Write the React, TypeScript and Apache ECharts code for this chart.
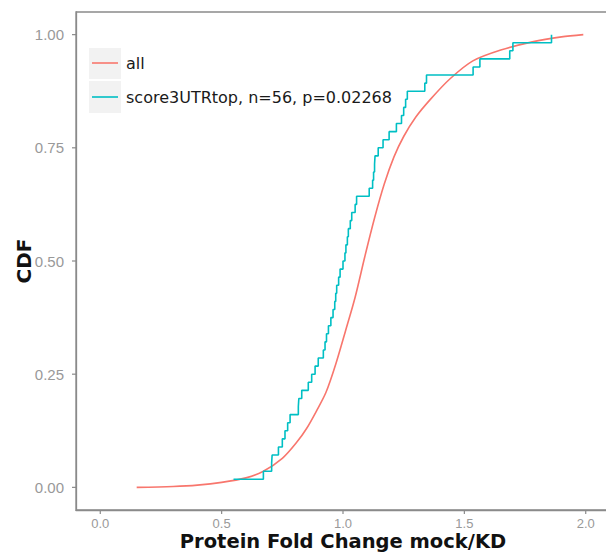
import React, { useEffect, useRef } from "react";
import * as echarts from "echarts";

// "all" CDF curve (x, cumulative fraction)
const allX = [0.15, 0.3, 0.4, 0.5, 0.6, 0.67, 0.75, 0.81, 0.85, 0.89, 0.93, 0.97, 1.01, 1.05, 1.09, 1.13, 1.17, 1.21, 1.25, 1.3, 1.36, 1.44, 1.535, 1.65, 1.78, 1.9, 1.99];
const allY = [0, 0.002, 0.005, 0.011, 0.021, 0.035, 0.064, 0.1, 0.13, 0.168, 0.21, 0.272, 0.345, 0.42, 0.51, 0.595, 0.67, 0.73, 0.775, 0.818, 0.857, 0.902, 0.942, 0.966, 0.984, 0.995, 1.0];

// score3UTRtop sorted values (n = 56)
const topValues = [
  0.549, 0.672, 0.706, 0.708, 0.734, 0.75, 0.761, 0.772, 0.782, 0.816,
  0.818, 0.83, 0.857, 0.871, 0.885, 0.898, 0.919, 0.926, 0.932, 0.94,
  0.95, 0.959, 0.966, 0.97, 0.974, 0.982, 0.988, 1.0, 1.008, 1.012,
  1.018, 1.022, 1.03, 1.036, 1.05, 1.056, 1.108, 1.122, 1.126, 1.13,
  1.132, 1.145, 1.165, 1.19, 1.22, 1.241, 1.25, 1.258, 1.265, 1.337,
  1.344, 1.536, 1.564, 1.687, 1.7, 1.859,
];

const xTicks = [0, 0.5, 1, 1.5, 2];
const yTicks = [0, 0.25, 0.5, 0.75, 1];
const seriesNames = ["all", "score3UTRtop, n=56, p=0.02268"];
const colors = ["#F8766D", "#00BFC4"];

const X_MIN = -0.1;
const X_MAX = 2.1;
const Y_MIN = -0.05;
const Y_MAX = 1.05;

export default function App() {
  const ref = useRef<HTMLDivElement>(null);
  useEffect(() => {
    if (!ref.current) return;
    const chart = echarts.init(ref.current, undefined, { renderer: "svg" });
    const allData = allX.map((x, i) => [x, allY[i]]);
    const n = topValues.length;
    const topData = topValues.map((x, i) => [x, (i + 1) / n]);
    const tickColor = "#999999";
    const axisGray = "#8a8a8a";
    const legendGraphics = [
      { type: "rect", shape: { x: 89, y: 48, width: 32, height: 31 }, style: { fill: "#F2F2F2" } },
      { type: "rect", shape: { x: 89, y: 81, width: 32, height: 32 }, style: { fill: "#F2F2F2" } },
      { type: "line", shape: { x1: 92, y1: 63, x2: 118, y2: 63 }, style: { stroke: colors[0], lineWidth: 1.6 } },
      { type: "line", shape: { x1: 92, y1: 97, x2: 118, y2: 97 }, style: { stroke: colors[1], lineWidth: 1.6 } },
      {
        type: "text",
        x: 126,
        y: 63,
        style: { text: seriesNames[0], fontFamily: "DejaVu Sans", fontSize: 16, fill: "#1a1a1a", verticalAlign: "middle" },
      },
      {
        type: "text",
        x: 126,
        y: 97,
        style: { text: seriesNames[1], fontFamily: "DejaVu Sans", fontSize: 16, fill: "#1a1a1a", verticalAlign: "middle" },
      },
    ];
    chart.setOption({
      animation: false,
      backgroundColor: "#ffffff",
      grid: {
        left: 76,
        top: 12,
        right: -4,
        bottom: 43,
        outerBoundsMode: "none",
        containLabel: false,
        show: true,
        borderColor: axisGray,
        borderWidth: 1.3,
        backgroundColor: "transparent",
      },
      xAxis: {
        type: "value",
        min: X_MIN,
        max: X_MAX,
        name: "Protein Fold Change mock/KD",
        nameLocation: "middle",
        nameGap: 20,
        nameMoveOverlap: false,
        nameTextStyle: { fontFamily: "DejaVu Sans", fontWeight: "bold", fontSize: 19.5, color: "#111", lineHeight: 22 },
        axisLine: { show: true, onZero: false, lineStyle: { color: axisGray, width: 1.3 } },
        splitLine: { show: false },
        axisTick: { show: false },
        axisLabel: {
          customValues: xTicks,
          formatter: (v: number) => v.toFixed(1),
          color: tickColor,
          fontFamily: "Liberation Sans",
          fontSize: 13,
          lineHeight: 14,
          margin: 6,
        },
      },
      yAxis: {
        type: "value",
        min: Y_MIN,
        max: Y_MAX,
        name: "CDF",
        nameLocation: "middle",
        nameGap: 42,
        nameMoveOverlap: false,
        nameTextStyle: { fontFamily: "DejaVu Sans", fontWeight: "bold", fontSize: 20, color: "#111" },
        axisLine: { show: true, onZero: false, lineStyle: { color: axisGray, width: 1.3 } },
        splitLine: { show: false },
        axisTick: { show: false },
        axisLabel: {
          customValues: yTicks,
          formatter: (v: number) => v.toFixed(2),
          color: tickColor,
          fontFamily: "Liberation Sans",
          fontSize: 15,
          margin: 12,
        },
      },
      series: [
        {
          name: seriesNames[0],
          type: "line",
          data: allData,
          smooth: 0.3,
          showSymbol: false,
          lineStyle: { color: colors[0], width: 1.6 },
          z: 2,
        },
        {
          name: seriesNames[1],
          type: "line",
          step: "end",
          data: topData,
          showSymbol: false,
          lineStyle: { color: colors[1], width: 1.6 },
          z: 3,
        },
      ],
      graphic: legendGraphics,
    });

    // axis tick marks placed through the chart's own scales
    const tickGraphics: any[] = [];
    xTicks.forEach((v) => {
      const p = chart.convertToPixel({ gridIndex: 0 }, [v, Y_MIN]) as number[];
      tickGraphics.push({
        type: "line",
        shape: { x1: p[0], y1: p[1], x2: p[0], y2: p[1] + 4 },
        style: { stroke: axisGray, lineWidth: 1.2 },
      });
    });
    yTicks.forEach((v) => {
      const p = chart.convertToPixel({ gridIndex: 0 }, [X_MIN, v]) as number[];
      tickGraphics.push({
        type: "line",
        shape: { x1: p[0] - 4, y1: p[1], x2: p[0], y2: p[1] },
        style: { stroke: axisGray, lineWidth: 1.2 },
      });
    });
    chart.setOption({ graphic: [...legendGraphics, ...tickGraphics] });

    return () => chart.dispose();
  }, []);
  return (
    <div
      ref={ref}
      style={{ position: "fixed", left: 0, top: 0, width: 606, height: 553 }}
    />
  );
}
